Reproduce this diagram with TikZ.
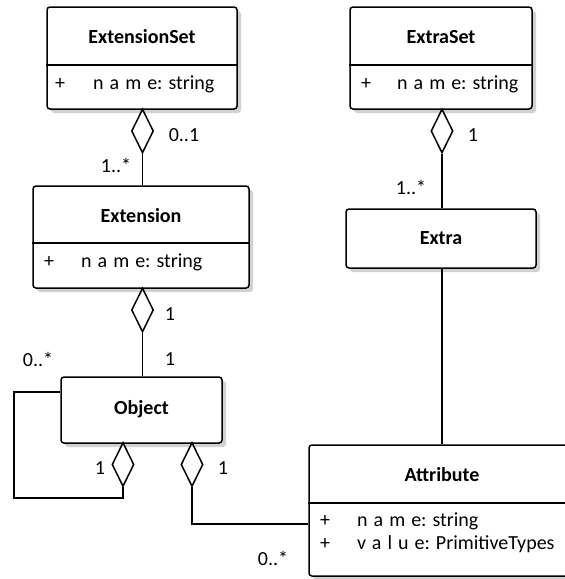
\documentclass[tikz,border=0pt]{standalone}
\usepackage{fontspec}
\setmainfont{Carlito}
\usetikzlibrary{shapes.geometric,shadows}
\begin{document}
\begin{tikzpicture}[x=1pt,y=-1pt,
  cls/.style={draw, line width=1.5pt, rounded corners=3pt, fill=white, inner sep=0pt,
    drop shadow={shadow xshift=4pt, shadow yshift=-4pt, fill=black!18, opacity=1}},
  agg/.style={diamond, draw, line width=1.5pt, fill=white, aspect=0.5,
    minimum width=22pt, minimum height=44pt, inner sep=0pt},
  ttl/.style={font=\bfseries\fontsize{20}{24}\selectfont, inner sep=0pt},
  att/.style={font=\fontsize{20}{24}\selectfont, anchor=mid west, inner sep=0pt},
  pls/.style={font=\fontsize{20}{24}\selectfont, anchor=mid, inner sep=0pt},
  lbl/.style={font=\fontsize{20}{24}\selectfont, inner sep=0pt},
  ln/.style={line width=1.5pt}]
\useasboundingbox (0,0) rectangle (565,579);
\newcommand{\spc}[1]{{\addfontfeature{LetterSpace=30}#1}}

% ExtensionSet
\node[cls, minimum width=190pt, minimum height=102pt] (es) at (142,58) {};
\draw[ln] (es.west |- 0,65) -- (es.east |- 0,65);
\node[ttl] (est) at (142,37) {ExtensionSet};
\node[pls] (esp) at (60,87) {+};
\node[att] (esa) at (93,87) {\spc{name}: string};

% ExtraSet
\node[cls, minimum width=182pt, minimum height=102pt] (xs) at (441,58) {};
\draw[ln] (xs.west |- 0,65) -- (xs.east |- 0,65);
\node[ttl] (xst) at (441,37) {ExtraSet};
\node[pls] (xsp) at (366,87) {+};
\node[att] (xsa) at (397,87) {\spc{name}: string};

% Extension
\node[cls, minimum width=216pt, minimum height=102pt] (ext) at (141,237) {};
\draw[ln] (ext.west |- 0,243) -- (ext.east |- 0,243);
\node[ttl] (extt) at (141,216) {Extension};
\node[pls] (extp) at (49,265) {+};
\node[att] (exta) at (81,265) {\spc{name}: string};

% Extra
\node[cls, minimum width=190pt, minimum height=59pt] (xtra) at (441,238.5) {};
\node[ttl] (xtrat) at (441,238) {Extra};

% Object
\node[cls, minimum width=161pt, minimum height=66pt] (obj) at (141.5,410) {};
\node[ttl] (objt) at (141.5,409) {Object};

% Attribute
\node[cls, minimum width=266pt, minimum height=131pt] (attr) at (442,510.5) {};
\draw[ln] (attr.west |- 0,503) -- (attr.east |- 0,503);
\node[ttl] (attrt) at (442,475) {Attribute};
\node[pls] (ap1) at (325,524) {+};
\node[att] (aa1) at (357,524) {\spc{name}: string};
\node[pls] (ap2) at (325,547) {+};
\node[att] (aa2) at (357,547) {\spc{value}: PrimitiveTypes};

% diamonds
\node[agg] (d1) at (142.5,131) {};
\node[agg] (d2) at (142.5,310) {};
\node[agg] (d3) at (442,131) {};
\node[agg] (d4) at (123,464.5) {};
\node[agg] (d5) at (192,464.5) {};

% connectors
\draw[ln] (d1.south) -- (d1.south |- ext.north);
\draw[ln] (d2.south) -- (d2.south |- obj.north);
\draw[ln] (d3.south) -- (d3.south |- xtra.north);
\draw[ln] (xtra.south -| d3.south) -- (d3.south |- attr.north);
\coordinate (l1) at (123,498);
\coordinate (l2) at (14,498);
\coordinate (l3) at (14,392);
\draw[ln] (d4.south) -- (l1) -- (l2) -- (l3) -- (obj.west |- l3);
\coordinate (m1) at (192,524);
\draw[ln] (d5.south) -- (m1) -- (attr.west |- m1);

% multiplicities
\node[lbl] (m01) at (184,135) {0..1};
\node[lbl] (m1s) at (116,165) {1..*};
\node[lbl] (m3a) at (473,135) {1};
\node[lbl] (m3b) at (411,187) {1..*};
\node[lbl] (m2a) at (170,314) {1};
\node[lbl] (m2b) at (170,359) {1};
\node[lbl] (m0s) at (38,359) {0..*};
\node[lbl] (m4) at (100,468) {1};
\node[lbl] (m5) at (223,468) {1};
\node[lbl] (m0s2) at (273,558) {0..*};
\end{tikzpicture}
\end{document}
